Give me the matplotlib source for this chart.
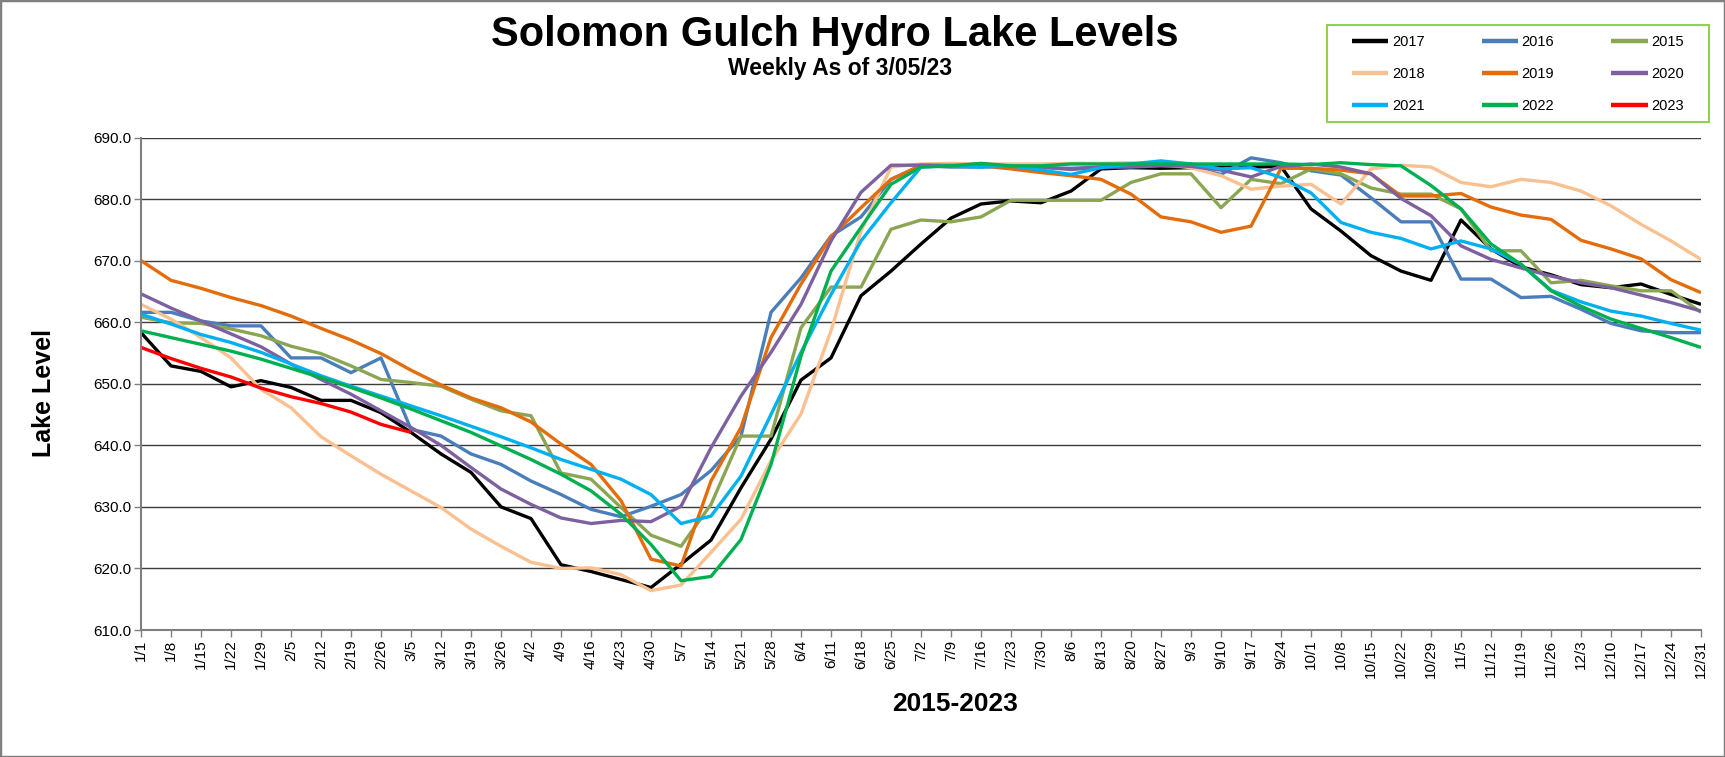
import matplotlib
matplotlib.use("Agg")
import matplotlib.pyplot as plt
from matplotlib.patches import Rectangle

plt.rcParams['font.family'] = ['Liberation Sans', 'DejaVu Sans']

weeks = ['1/1', '1/8', '1/15', '1/22', '1/29', '2/5', '2/12', '2/19', '2/26', '3/5',
         '3/12', '3/19', '3/26', '4/2', '4/9', '4/16', '4/23', '4/30', '5/7', '5/14',
         '5/21', '5/28', '6/4', '6/11', '6/18', '6/25', '7/2', '7/9', '7/16', '7/23',
         '7/30', '8/6', '8/13', '8/20', '8/27', '9/3', '9/10', '9/17', '9/24', '10/1',
         '10/8', '10/15', '10/22', '10/29', '11/5', '11/12', '11/19', '11/26', '12/3',
         '12/10', '12/17', '12/24', '12/31']

y2017 = [658.3, 652.9, 652.0, 649.5, 650.5, 649.4, 647.3, 647.3, 645.3, 642.1,
         638.6, 635.6, 630.0, 628.1, 620.6, 619.5, 618.2, 616.9, 620.7, 624.6,
         633.1, 641.0, 650.6, 654.2, 664.3, 668.3, 672.7, 676.9, 679.2, 679.7,
         679.4, 681.3, 684.9, 685.1, 685.0, 685.1, 685.2, 685.2, 685.3, 678.4,
         674.8, 670.8, 668.3, 666.8, 676.6, 671.9, 669.0, 667.7, 666.1, 665.6,
         666.2, 664.5, 662.9]
y2016 = [661.6, 661.6, 660.2, 659.4, 659.4, 654.2, 654.2, 651.8, 654.2, 642.6,
         641.5, 638.6, 636.9, 634.2, 632.0, 629.6, 628.4, 630.1, 632.0, 635.9,
         641.5, 661.6, 667.2, 674.0, 677.1, 683.2, 685.4, 685.2, 685.2, 685.4,
         685.1, 685.0, 685.2, 685.2, 685.4, 685.2, 684.0, 686.7, 685.9, 684.6,
         683.9, 680.2, 676.3, 676.3, 667.0, 667.0, 664.0, 664.2, 662.1, 659.8,
         658.6, 658.3, 658.3]
y2015 = [660.8, 659.9, 659.8, 658.9, 657.8, 656.1, 654.9, 652.9, 650.7, 650.2,
         649.6, 647.5, 645.6, 644.8, 635.5, 634.5, 629.9, 625.4, 623.6, 630.4,
         641.5, 641.5, 659.1, 665.7, 665.7, 675.1, 676.6, 676.3, 677.1, 679.8,
         679.8, 679.8, 679.8, 682.7, 684.1, 684.1, 678.6, 683.2, 682.5, 684.9,
         684.1, 681.8, 680.8, 680.8, 678.4, 671.6, 671.6, 666.4, 666.8, 665.9,
         665.1, 665.1, 661.6]
y2018 = [662.9, 660.5, 657.5, 654.2, 649.1, 646.1, 641.4, 638.3, 635.3, 632.6,
         629.9, 626.4, 623.6, 621.0, 620.0, 620.1, 619.0, 616.4, 617.3, 622.6,
         628.0, 637.5, 645.1, 658.6, 674.8, 685.2, 685.7, 685.8, 685.7, 685.7,
         685.7, 685.8, 685.8, 685.9, 685.7, 685.1, 683.8, 681.6, 682.1, 682.4,
         679.2, 684.9, 685.5, 685.2, 682.7, 682.0, 683.2, 682.7, 681.3, 678.9,
         675.9, 673.2, 670.2]
y2019 = [670.0, 666.8, 665.5, 664.0, 662.7, 661.0, 659.0, 657.1, 654.9, 652.2,
         649.8, 647.7, 646.1, 643.8, 640.2, 636.9, 631.0, 621.5, 620.4, 634.2,
         642.9, 657.5, 666.2, 673.9, 678.6, 683.2, 685.5, 685.5, 685.4, 684.9,
         684.3, 683.8, 683.2, 680.8, 677.1, 676.3, 674.6, 675.6, 685.0, 685.0,
         684.7, 684.1, 680.5, 680.5, 680.9, 678.7, 677.4, 676.7, 673.3, 671.9,
         670.3, 666.9, 664.8]
y2020 = [664.6, 662.3, 660.2, 658.1, 656.0, 653.2, 650.7, 648.3, 645.6, 642.9,
         640.0, 636.4, 632.9, 630.4, 628.2, 627.3, 627.8, 627.6, 630.1, 639.6,
         648.0, 655.1, 662.9, 673.2, 681.1, 685.5, 685.5, 685.4, 685.3, 685.3,
         685.2, 684.8, 685.2, 685.3, 685.5, 685.3, 684.7, 683.6, 685.3, 685.7,
         685.2, 684.1, 680.1, 677.3, 672.4, 670.2, 668.8, 667.5, 666.4, 665.6,
         664.4, 663.2, 661.8]
y2021 = [661.3, 659.7, 658.0, 656.7, 655.1, 653.2, 651.3, 649.6, 648.0, 646.4,
         644.8, 643.1, 641.4, 639.6, 637.7, 636.1, 634.5, 632.0, 627.3, 628.5,
         635.0, 645.0, 655.1, 664.5, 673.2, 679.4, 685.2, 685.4, 685.2, 685.4,
         684.7, 684.0, 685.1, 685.7, 686.2, 685.7, 684.9, 685.1, 683.5, 681.0,
         676.2, 674.6, 673.6, 671.9, 673.2, 671.9, 669.4, 665.2, 663.3, 661.8,
         661.0, 659.8, 658.7]
y2022 = [658.6, 657.5, 656.4, 655.3, 654.0, 652.5, 651.0, 649.4, 647.7, 645.9,
         644.0, 642.1, 639.9, 637.7, 635.3, 632.6, 628.8, 623.9, 618.0, 618.7,
         624.7, 636.9, 654.5, 668.3, 675.4, 682.4, 685.2, 685.4, 685.8, 685.4,
         685.4, 685.7, 685.7, 685.7, 685.7, 685.7, 685.7, 685.7, 685.7, 685.6,
         685.9, 685.6, 685.4, 682.2, 678.4, 672.7, 669.4, 665.1, 662.6, 660.5,
         659.0, 657.5, 655.9]
y2023 = [655.9, 654.1, 652.5, 651.1, 649.3, 647.9, 646.8, 645.4, 643.4, 642.1]

labels = ['2017', '2016', '2015', '2018', '2019', '2020', '2021', '2022', '2023']
colors = ['#000000', '#4A7EBB', '#8BA652', '#FAC090', '#E46C0A', '#7D60A0',
          '#00B0F0', '#00B050', '#FF0000']
data = [y2017, y2016, y2015, y2018, y2019, y2020, y2021, y2022, y2023]

W, H = 1725, 757
fig = plt.figure(figsize=(W / 100, H / 100), dpi=100)
ax = fig.add_axes([141 / W, 1 - 630 / H, (1701 - 141) / W, (630 - 137.5) / H])

handles = {}
for lab, vals, col in zip(labels, data, colors):
    ln, = ax.plot(range(len(vals)), vals, color=col, lw=2.4, label=lab,
                  solid_joinstyle='round', solid_capstyle='butt')
    handles[lab] = ln

ax.set_xlim(0, len(weeks) - 1)
ax.set_ylim(610, 690)
ax.set_yticks(range(610, 691, 10))
ax.set_yticklabels([f'{v:.1f}' for v in range(610, 691, 10)], fontsize=11)
ax.set_xticks(range(len(weeks)))
ax.set_xticklabels(weeks, rotation=90, fontsize=11)
ax.yaxis.grid(True, color='#3c3c3c', lw=1.0)
ax.set_axisbelow(True)
for s in ['top', 'right']:
    ax.spines[s].set_visible(False)
for s in ['left', 'bottom']:
    ax.spines[s].set_color('#808080')
    ax.spines[s].set_linewidth(1.5)
ax.tick_params(axis='both', direction='out', length=5, width=1, color='#808080', pad=2)

order = ['2017', '2018', '2021', '2016', '2019', '2022', '2015', '2020', '2023']
leg = fig.legend([handles[k] for k in order], order, loc='center',
                 bbox_to_anchor=(1518 / W, 1 - 74 / H), ncol=3, frameon=False,
                 fontsize=10.5, handlelength=2.5, handletextpad=0.25,
                 columnspacing=3.9, labelspacing=1.25, borderpad=0)
for lh in leg.get_lines():
    lh.set_linewidth(3.2)

fig.add_artist(Rectangle((1327 / W, 1 - 121.7 / H), 382 / W, 96.7 / H,
                         transform=fig.transFigure, fill=False,
                         edgecolor='#92D050', lw=1.5))
fig.add_artist(Rectangle((0, 0), 1, 1, transform=fig.transFigure, fill=False,
                         edgecolor='#808080', lw=2.5))

fig.text(835 / W, 1 - 35 / H, 'Solomon Gulch Hydro Lake Levels', fontsize=30,
         fontweight='bold', ha='center', va='center')
fig.text(840 / W, 1 - 68 / H, 'Weekly As of 3/05/23', fontsize=16.5,
         fontweight='bold', ha='center', va='center')
fig.text(44 / W, 1 - 393 / H, 'Lake Level', fontsize=18, fontweight='bold',
         rotation=90, ha='center', va='center')
fig.text(955 / W, 1 - 704 / H, '2015-2023', fontsize=19, fontweight='bold',
         ha='center', va='center')

fig.savefig('out.png', dpi=100)
